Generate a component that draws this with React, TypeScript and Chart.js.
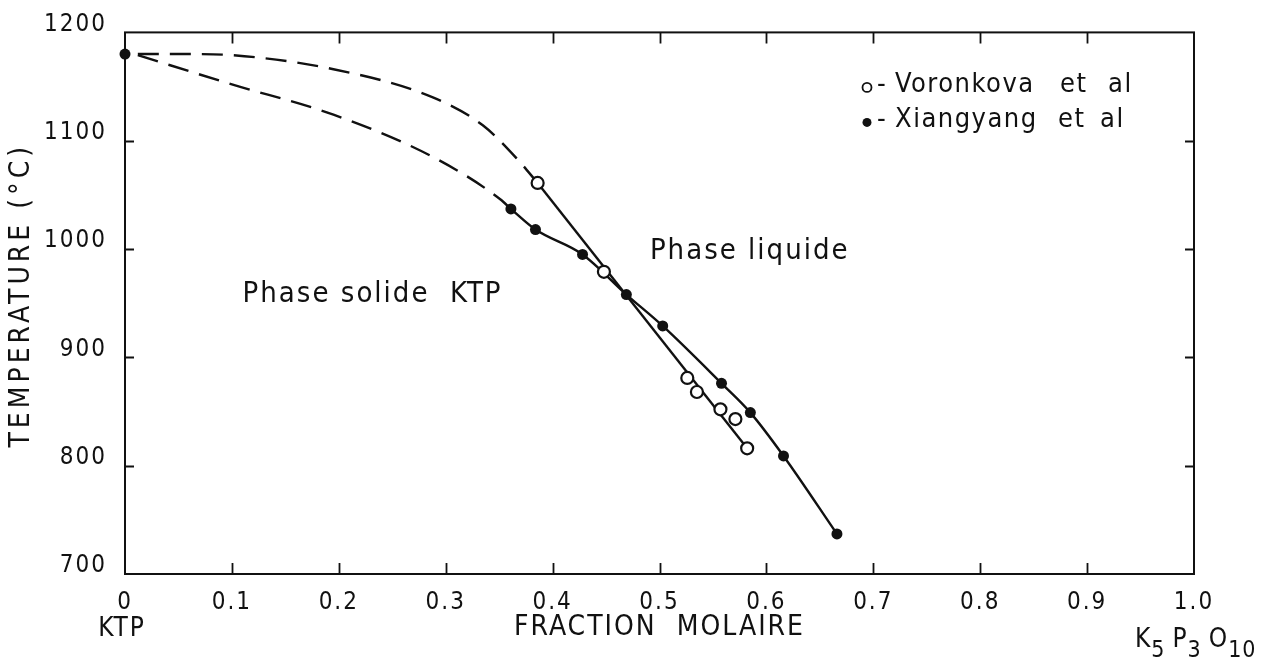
import React, { useEffect, useRef } from "react";
import { Chart, registerables } from "chart.js";

Chart.register(...registerables);

// ---- axes ----
const X_TICKS = [0, 0.1, 0.2, 0.3, 0.4, 0.5, 0.6, 0.7, 0.8, 0.9, 1.0];
const X_TICK_LABELS = ["0", "0.1", "0.2", "0.3", "0.4", "0.5", "0.6", "0.7", "0.8", "0.9", "1.0"];
const Y_TICKS = [700, 800, 900, 1000, 1100, 1200];
const X_TITLE = "FRACTION  MOLAIRE";
const Y_TITLE = "TEMPERATURE (°C)";

// ---- measured points ----
const VORONKOVA_X = [0.386, 0.448, 0.526, 0.535, 0.557, 0.571, 0.582];
const VORONKOVA_Y = [1061, 979, 881, 868, 852, 843, 816];
const XIANGYANG_X = [0, 0.361, 0.384, 0.428, 0.469, 0.503, 0.558, 0.585, 0.616, 0.666];
const XIANGYANG_Y = [1180, 1037, 1018, 995, 958, 929, 876, 849, 809, 737];

// ---- drawn curves ----
const VORONKOVA_FIT_X = [0.386, 0.582];
const VORONKOVA_FIT_Y = [1061, 816];
const XIANGYANG_FIT_X = [0.361, 0.384, 0.428, 0.469, 0.503, 0.558, 0.585, 0.616, 0.666];
const XIANGYANG_FIT_Y = [1037, 1018, 995, 958, 929, 876, 849, 809, 737];
const UPPER_DASH_X = [0.012, 0.06, 0.1, 0.195, 0.288, 0.335, 0.367, 0.386];
const UPPER_DASH_Y = [1180, 1180, 1179, 1166, 1140, 1114, 1083, 1061];
const LOWER_DASH_X = [0.012, 0.1, 0.195, 0.288, 0.351, 0.361];
const LOWER_DASH_Y = [1179, 1152, 1124, 1085, 1046, 1037];

// ---- labels ----
const LEGEND_ROWS = [
  { marker: "open", words: ["Voronkova", "et", "al"] },
  { marker: "filled", words: ["Xiangyang", "et", "al"] },
];
const REGION_LABELS = ["Phase liquide", "Phase solide  KTP"];
const LEFT_END_LABEL = "KTP";
const RIGHT_END_FORMULA = [
  { t: "K", sub: false },
  { t: "5", sub: true },
  { t: "P", sub: false },
  { t: "3", sub: true },
  { t: "O", sub: false },
  { t: "10", sub: true },
];

const FONT = '"DejaVu Sans Condensed", "DejaVu Sans", sans-serif';
const INK = "#111";

const zip = (xs: number[], ys: number[]) => xs.map((x, i) => ({ x, y: ys[i] }));

const spacingPlugin = {
  id: "spacing",
  beforeDraw(chart: any) {
    (chart.ctx as any).letterSpacing = "2px";
  },
};

const framePlugin = {
  id: "frame",
  beforeDatasetsDraw(chart: any) {
    const { ctx, chartArea } = chart;
    const { left, right, top, bottom } = chartArea;
    const xs = chart.scales.x;
    const ys = chart.scales.y;
    ctx.save();
    ctx.strokeStyle = INK;
    ctx.lineWidth = 2;
    ctx.strokeRect(left, top, right - left, bottom - top);
    ctx.lineWidth = 1.8;
    ctx.beginPath();
    const TL = 11;
    X_TICKS.slice(1, -1).forEach((v) => {
      const px = Math.round(xs.getPixelForValue(v)) + 0.5;
      ctx.moveTo(px, bottom);
      ctx.lineTo(px, bottom - TL);
      ctx.moveTo(px, top);
      ctx.lineTo(px, top + TL);
    });
    Y_TICKS.slice(1, -1).forEach((v) => {
      const py = Math.round(ys.getPixelForValue(v)) + 0.5;
      ctx.moveTo(left, py);
      ctx.lineTo(left + TL - 2, py);
      ctx.moveTo(right, py);
      ctx.lineTo(right - TL + 2, py);
    });
    ctx.stroke();
    ctx.restore();
  },
};

const textPlugin = {
  id: "texts",
  afterDraw(chart: any) {
    const { ctx, chartArea } = chart;
    const xs = chart.scales.x;
    const ys = chart.scales.y;
    ctx.save();
    ctx.fillStyle = INK;
    ctx.strokeStyle = INK;
    ctx.textBaseline = "middle";
    ctx.textAlign = "left";

    // region labels
    ctx.letterSpacing = "2px";
    ctx.font = `29px ${FONT}`;
    ctx.fillText(REGION_LABELS[0], xs.getPixelForValue(0.491), ys.getPixelForValue(998));
    ctx.fillText(REGION_LABELS[1], xs.getPixelForValue(0.11), ys.getPixelForValue(958));

    // legend
    ctx.letterSpacing = "1.5px";
    const lx = chartArea.left + 742;
    const rowY = [chartArea.top + 53, chartArea.top + 88];
    const wordX = [[770, 935, 983], [770, 933, 975]];
    LEGEND_ROWS.forEach((row, r) => {
      const yy = rowY[r];
      ctx.beginPath();
      ctx.arc(lx, yy + 2, 4.5, 0, Math.PI * 2);
      ctx.lineWidth = 1.8;
      if (row.marker === "open") ctx.stroke();
      else ctx.fill();
      ctx.font = `27px ${FONT}`;
      ctx.fillText("-", lx + 10, yy);
      row.words.forEach((w, i) => ctx.fillText(w, chartArea.left + wordX[r][i], yy));
    });

    // y axis title
    ctx.save();
    ctx.letterSpacing = "4px";
    ctx.font = `28px ${FONT}`;
    ctx.textAlign = "center";
    ctx.translate(22, (chartArea.top + chartArea.bottom) / 2 - 8);
    ctx.rotate(-Math.PI / 2);
    ctx.fillText(Y_TITLE, 0, 0);
    ctx.restore();

    // axis end labels
    ctx.letterSpacing = "2px";
    ctx.font = `26px ${FONT}`;
    ctx.textAlign = "center";
    ctx.fillText(LEFT_END_LABEL, xs.getPixelForValue(0) - 3, chartArea.bottom + 55);

    ctx.letterSpacing = "1px";
    ctx.textAlign = "left";
    ctx.textBaseline = "alphabetic";
    let fx = xs.getPixelForValue(1) - 59;
    const baseY = chartArea.bottom + 73;
    RIGHT_END_FORMULA.forEach((p) => {
      ctx.font = p.sub ? `23px ${FONT}` : `26px ${FONT}`;
      ctx.fillText(p.t, fx, p.sub ? baseY + 10 : baseY);
      fx += ctx.measureText(p.t).width + (p.sub ? 7 : 0);
    });
    ctx.restore();
  },
};

export default function App() {
  const canvasRef = useRef<HTMLCanvasElement | null>(null);

  useEffect(() => {
    if (!canvasRef.current) return;
    const lineBase = {
      showLine: true,
      pointRadius: 0,
      pointHoverRadius: 0,
      borderColor: INK,
      borderWidth: 2.4,
      fill: false,
    };
    const chart = new Chart(canvasRef.current, {
      type: "scatter",
      data: {
        datasets: [
          {
            label: "Voronkova et al",
            data: zip(VORONKOVA_X, VORONKOVA_Y),
            pointRadius: 6,
            pointBorderWidth: 2.2,
            pointBackgroundColor: "#fff",
            pointBorderColor: INK,
            clip: false,
          } as any,
          {
            label: "Xiangyang et al",
            data: zip(XIANGYANG_X, XIANGYANG_Y),
            pointRadius: 5.5,
            pointBorderWidth: 0,
            pointBackgroundColor: INK,
            pointBorderColor: INK,
            clip: false,
          } as any,
          { ...lineBase, label: "Voronkova fit", data: zip(VORONKOVA_FIT_X, VORONKOVA_FIT_Y), tension: 0 },
          {
            ...lineBase,
            label: "Xiangyang fit",
            data: zip(XIANGYANG_FIT_X, XIANGYANG_FIT_Y),
            cubicInterpolationMode: "monotone",
          },
          {
            ...lineBase,
            label: "upper dashed",
            data: zip(UPPER_DASH_X, UPPER_DASH_Y),
            cubicInterpolationMode: "monotone",
            borderDash: [21, 11],
          },
          {
            ...lineBase,
            label: "lower dashed",
            data: zip(LOWER_DASH_X, LOWER_DASH_Y),
            cubicInterpolationMode: "monotone",
            borderDash: [21, 11],
          },
        ],
      },
      options: {
        animation: false,
        responsive: true,
        maintainAspectRatio: false,
        layout: { padding: { top: 30, right: 72, left: 0, bottom: 0 } },
        plugins: {
          legend: { display: false },
          tooltip: { enabled: false },
        },
        scales: {
          x: {
            type: "linear",
            min: 0,
            max: 1,
            afterBuildTicks: (scale: any) => {
              scale.ticks = X_TICKS.map((v) => ({ value: v }));
            },
            afterFit: (scale: any) => {
              scale.height = 86;
            },
            ticks: {
              autoSkip: false,
              maxRotation: 0,
              padding: 14,
              color: INK,
              font: { family: FONT, size: 24 },
              callback: (_v: any, i: number) => X_TICK_LABELS[i],
            },
            grid: { display: false, drawTicks: false },
            border: { display: false },
            title: {
              display: true,
              text: X_TITLE,
              color: INK,
              font: { family: FONT, size: 28 },
              padding: { top: 0, bottom: 15 },
            },
          },
          y: {
            type: "linear",
            min: 700,
            max: 1200,
            afterBuildTicks: (scale: any) => {
              scale.ticks = Y_TICKS.map((v) => ({ value: v }));
            },
            afterFit: (scale: any) => {
              scale.width = 125;
            },
            ticks: {
              padding: 18,
              labelOffset: -8,
              color: INK,
              font: { family: FONT, size: 24 },
              callback: (v: any) => String(v),
            },
            grid: { display: false, drawTicks: false },
            border: { display: false },
            title: { display: false, text: Y_TITLE },
          },
        },
      },
      plugins: [spacingPlugin, framePlugin, textPlugin],
    } as any);
    return () => chart.destroy();
  }, []);

  return (
    <div
      style={{
        position: "fixed",
        left: 0,
        top: 0,
        width: 1266,
        height: 660,
        background: "#fff",
      }}
    >
      <canvas ref={canvasRef} />
    </div>
  );
}
